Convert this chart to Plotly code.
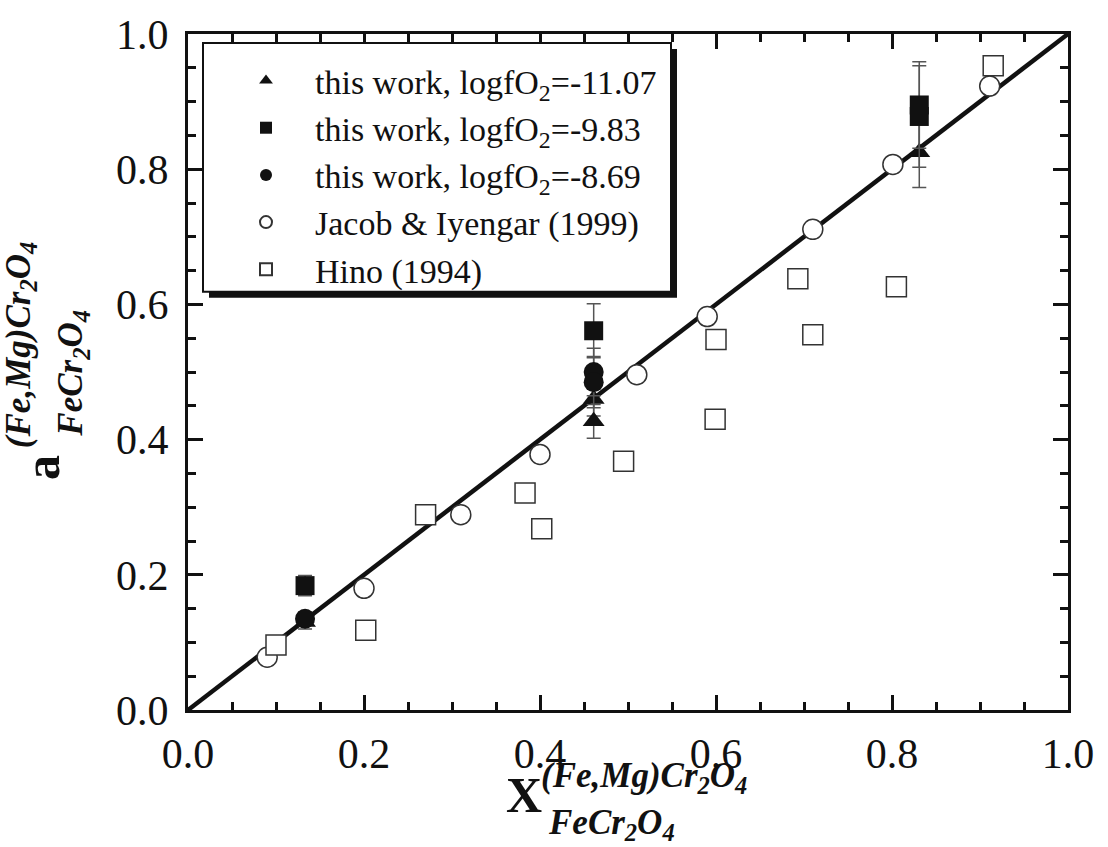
import plotly.graph_objects as go

# ---------------- data ----------------
tri_x = [0.133, 0.461, 0.461, 0.831]
tri_y = [0.130, 0.460, 0.427, 0.825]
tri_err = [0.010, 0.025, 0.025, 0.052]

sq_x = [0.133, 0.461, 0.831, 0.831]
sq_y = [0.184, 0.561, 0.895, 0.878]
sq_err = [0.015, 0.040, 0.064, 0.075]

circ_x = [0.133, 0.461, 0.461]
circ_y = [0.135, 0.500, 0.485]
circ_err = [0.010, 0.035, 0.038]

jacob_x = [0.090, 0.200, 0.310, 0.400, 0.510, 0.590, 0.710, 0.801, 0.911]
jacob_y = [0.078, 0.180, 0.289, 0.378, 0.496, 0.582, 0.711, 0.807, 0.923]

hino_x = [0.100, 0.202, 0.270, 0.383, 0.402, 0.495, 0.600, 0.599, 0.693, 0.710, 0.805, 0.915]
hino_y = [0.096, 0.118, 0.289, 0.321, 0.268, 0.368, 0.548, 0.430, 0.638, 0.555, 0.626, 0.953]

line_x = [0.0, 1.0]
line_y = [0.0, 1.0]

tick_vals = [0.0, 0.2, 0.4, 0.6, 0.8, 1.0]
tick_text = ["0.0", "0.2", "0.4", "0.6", "0.8", "1.0"]

names = [
    "this work, logfO<sub>2</sub>=-11.07",
    "this work, logfO<sub>2</sub>=-9.83",
    "this work, logfO<sub>2</sub>=-8.69",
    "Jacob &amp; Iyengar (1999)",
    "Hino (1994)",
]

# ---------------- geometry (pixels) ----------------
W, H = 1108, 847
L, R, T, B = 188, 1068, 31, 710


def px(xp):
    return (xp - L) / (R - L)


def py(yp):
    return (B - yp) / (B - T)


SERIF = "Liberation Serif, Times New Roman, serif"
BLACK = "#111111"
ERRC = "#555555"

fig = go.Figure()

fig.add_trace(go.Scatter(x=line_x, y=line_y, mode="lines",
                         line=dict(color=BLACK, width=4.5),
                         showlegend=False, hoverinfo="skip"))

err_style = dict(type="data", visible=True, color=ERRC, thickness=1.5, width=7)

fig.add_trace(go.Scatter(
    x=tri_x, y=tri_y, mode="markers", name=names[0], legendgroup="a",
    marker=dict(symbol="triangle-up", size=19, color=BLACK, line=dict(width=0)),
    error_y=dict(array=tri_err, **err_style)))
fig.add_trace(go.Scatter(
    x=sq_x, y=sq_y, mode="markers", name=names[1], legendgroup="b",
    marker=dict(symbol="square", size=19, color=BLACK, line=dict(width=0)),
    error_y=dict(array=sq_err, **err_style)))
fig.add_trace(go.Scatter(
    x=circ_x, y=circ_y, mode="markers", name=names[2], legendgroup="c",
    marker=dict(symbol="circle", size=20, color=BLACK, line=dict(width=0)),
    error_y=dict(array=circ_err, **err_style)))
fig.add_trace(go.Scatter(
    x=jacob_x, y=jacob_y, mode="markers", name=names[3], legendgroup="d",
    marker=dict(symbol="circle", size=20, color="white",
                line=dict(color="#333333", width=1.5))))
fig.add_trace(go.Scatter(
    x=hino_x, y=hino_y, mode="markers", name=names[4], legendgroup="e",
    marker=dict(symbol="square", size=20, color="white",
                line=dict(color="#333333", width=1.5))))

# legend box with drop shadow
shapes = [
    dict(type="rect", xref="paper", yref="paper",
         x0=px(209), x1=px(677), y0=py(296), y1=py(46),
         fillcolor=BLACK, line=dict(width=0), layer="above"),
    dict(type="rect", xref="paper", yref="paper",
         x0=px(203), x1=px(671), y0=py(290), y1=py(40),
         fillcolor="white", line=dict(color=BLACK, width=2), layer="above"),
]

axis_common = dict(
    range=[0, 1], tickvals=tick_vals, ticktext=tick_text,
    ticks="inside", ticklen=15, tickwidth=2.5, tickcolor=BLACK,
    showline=True, linewidth=3, linecolor=BLACK, mirror="allticks",
    showgrid=False, zeroline=False,
    tickfont=dict(family=SERIF, size=42, color=BLACK),
    minor=dict(dtick=0.05, ticks="inside", ticklen=8, tickwidth=2.5,
               tickcolor=BLACK, showgrid=False),
)

title_font_big = dict(family=SERIF, size=50, color=BLACK)
title_font_small = dict(family=SERIF, size=35, color=BLACK)

annotations = [
    # x-axis title
    dict(text="<b>X</b>", xref="paper", yref="paper", x=px(524), y=py(795),
         xanchor="center", yanchor="middle", showarrow=False, font=title_font_big),
    dict(text="<b><i>(Fe,Mg)Cr<sub>2</sub>O<sub>4</sub></i></b>", xref="paper", yref="paper",
         x=px(539), y=py(778), xanchor="left", yanchor="middle", showarrow=False,
         font=title_font_small),
    dict(text="<b><i>FeCr<sub>2</sub>O<sub>4</sub></i></b>", xref="paper", yref="paper",
         x=px(546), y=py(825), xanchor="left", yanchor="middle", showarrow=False,
         font=title_font_small),
    # y-axis title
    dict(text="<b>a</b>", xref="paper", yref="paper", x=px(42), y=py(467),
         xanchor="center", yanchor="middle", showarrow=False, textangle=-90,
         font=title_font_big),
    dict(text="<b><i>(Fe,Mg)Cr<sub>2</sub>O<sub>4</sub></i></b>", xref="paper", yref="paper",
         x=px(20), y=py(449), xanchor="center", yanchor="bottom", showarrow=False,
         textangle=-90, font=title_font_small),
    dict(text="<b><i>FeCr<sub>2</sub>O<sub>4</sub></i></b>", xref="paper", yref="paper",
         x=px(73), y=py(438), xanchor="center", yanchor="bottom", showarrow=False,
         textangle=-90, font=title_font_small),
]

fig.update_layout(
    width=W, height=H,
    margin=dict(l=L, r=W - R, t=T, b=H - B, pad=0),
    paper_bgcolor="white", plot_bgcolor="white",
    xaxis=dict(**axis_common, ticklabelstandoff=5),
    yaxis=dict(**axis_common, ticklabelstandoff=8),
    shapes=shapes,
    annotations=annotations,
    showlegend=True,
    legend=dict(
        x=px(217), y=py(49), xanchor="left", yanchor="top",
        bgcolor="rgba(0,0,0,0)", borderwidth=0,
        font=dict(family=SERIF, size=34, color=BLACK),
        itemwidth=88, tracegroupgap=3, traceorder="normal",
        itemsizing="constant",
    ),
)

fig.write_html("out.html")
